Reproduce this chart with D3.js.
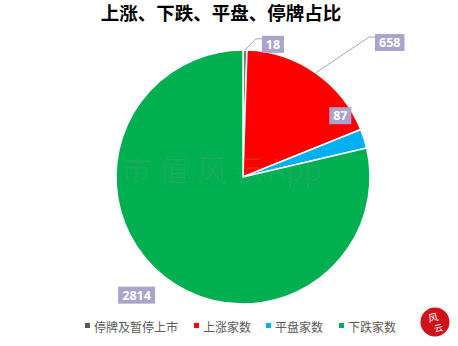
<!DOCTYPE html>
<html>
<head>
<meta charset="utf-8">
<script src="https://cdn.jsdelivr.net/npm/d3@7/dist/d3.min.js"></script>
<style>
  html, body { margin: 0; padding: 0; background: #fff; }
  svg { display: block; font-family: "Noto Sans CJK SC", "Noto Sans", sans-serif; }
</style>
</head>
<body>
<div id="chart"></div>
<script>
const categories = ['停牌及暂停上市', '上涨家数', '平盘家数', '下跌家数'];
const counts = [18, 658, 87, 2814];
const colors = ['#7f7f7f', '#ff0000', '#00b0f0', '#00b050'];
const legendColors = ['#595959', '#ff0000', '#00b0f0', '#00b050'];

// where Excel dropped each data label: angle (deg, clockwise from 12 o'clock) and distance from centre
const labelPlace = [
  { a: 12.7, r: 136, leader: true },
  { a: 47.5, r: 199, leader: true },
  { a: 57.8, r: 115, leader: false },
  { a: 222, r: 159, leader: false }
];

const width = 458, height = 346;
const cx = 243, cy = 177, radius = 127;

const svg = d3.select('#chart').append('svg')
  .attr('width', width)
  .attr('height', height);

// title
svg.append('text')
  .attr('x', 221).attr('y', 20)
  .attr('text-anchor', 'middle')
  .style('font-size', '18.5px')
  .style('font-weight', 700)
  .attr('fill', '#000')
  .text('上涨、下跌、平盘、停牌占比');

const data = categories.map((c, i) => ({ name: c, votes: counts[i], i }));
const pie = d3.pie().value(d => d.votes).sort(null);
const arcs = pie(data);

const arc = d3.arc().innerRadius(0).outerRadius(radius);
const edgeArc = d3.arc().innerRadius(radius).outerRadius(radius);

const g = svg.append('g').attr('transform', `translate(${cx},${cy})`);

g.selectAll('path.slice')
  .data(arcs)
  .enter().append('path')
  .attr('class', 'slice')
  .attr('d', arc)
  .attr('fill', d => colors[d.data.i])
  .attr('stroke', '#fff')
  .attr('stroke-width', 1.5)
  .attr('stroke-linejoin', 'round');

// watermark
const wm = svg.append('text')
  .attr('y', 181)
  .style('font-size', '30px')
  .style('font-family', '"Noto Sans CJK SC", sans-serif')
  .style('font-weight', 300)
  .attr('fill', 'rgba(150,150,150,0.22)');
wm.append('tspan').attr('x', 121).style('letter-spacing', '8px').text('市值风云');
wm.append('tspan').attr('x', 268).text('App');

// labels
const polar = (aDeg, r) => {
  const a = aDeg * Math.PI / 180;
  return [r * Math.sin(a), -r * Math.cos(a)];
};

const labels = g.selectAll('g.lbl')
  .data(arcs)
  .enter().append('g')
  .attr('class', 'lbl');

labels.each(function (d, i) {
  const p = labelPlace[i];
  const [lx, ly] = polar(p.a, p.r);
  const txt = String(d.data.votes);
  const w = txt.length * 7.5 + 7, h = 17;
  const sel = d3.select(this);
  if (p.leader) {
    const e = edgeArc.centroid(d);
    const bx = lx - w / 2, by = ly - h / 2 + 3;
    sel.append('polyline')
      .attr('points', [e, [bx - 6, by], [bx, by]].map(q => q.join(',')).join(' '))
      .attr('fill', 'none')
      .attr('stroke', '#a6a6a6')
      .attr('stroke-width', 1);
  }
  sel.append('rect')
    .attr('x', lx - w / 2).attr('y', ly - h / 2)
    .attr('width', w).attr('height', h)
    .attr('fill', '#aaa4cc');
  sel.append('text')
    .attr('x', lx).attr('y', ly + 4.5)
    .attr('text-anchor', 'middle')
    .style('font-size', '12.5px')
    .style('font-weight', 700)
    .style('font-family', '"Open Sans", "DejaVu Sans", sans-serif')
    .attr('fill', '#fff')
    .text(txt);
});

// legend
const legendX = [85, 194, 266, 339];
const legend = svg.append('g').attr('class', 'legend');
categories.forEach((c, i) => {
  legend.append('rect')
    .attr('x', legendX[i]).attr('y', 323)
    .attr('width', 5).attr('height', 5)
    .attr('fill', legendColors[i]);
  legend.append('text')
    .attr('x', legendX[i] + 9).attr('y', 331.5)
    .style('font-size', '12px')
    .attr('fill', '#595959')
    .text(c);
});

// logo
const logo = svg.append('g').attr('transform', 'translate(435,322)');
logo.append('circle').attr('r', 14.5).attr('fill', '#d0121b');
logo.append('text')
  .attr('x', -1).attr('y', -1)
  .attr('text-anchor', 'middle')
  .style('font-size', '10px')
  .attr('fill', '#fff')
  .attr('transform', 'rotate(-12)')
  .text('风');
logo.append('text')
  .attr('x', 2).attr('y', 10)
  .attr('text-anchor', 'middle')
  .style('font-size', '9px')
  .attr('fill', '#fff')
  .attr('transform', 'rotate(-12)')
  .text('云');
</script>
</body>
</html>
